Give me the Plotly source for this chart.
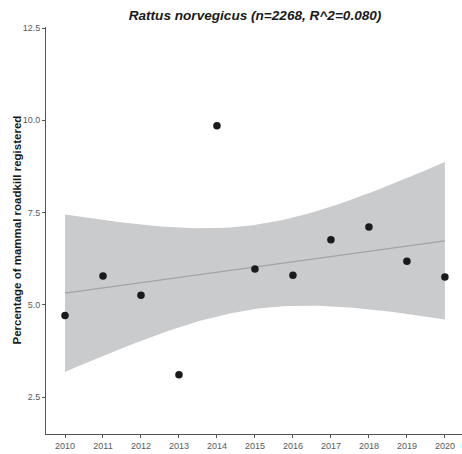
import numpy as np
import plotly.graph_objects as go

# Yearly share of mammal roadkill records for Rattus norvegicus
years = [2010, 2011, 2012, 2013, 2014, 2015, 2016, 2017, 2018, 2019, 2020]
percent = [4.71, 5.78, 5.26, 3.10, 9.85, 5.97, 5.80, 6.76, 7.11, 6.18, 5.75]
y_ticks = [2.5, 5.0, 7.5, 10.0, 12.5]

# Linear fit with a 95% confidence band (t, df = 9)
x = np.array(years, dtype=float)
y = np.array(percent)
slope, intercept = np.polyfit(x, y, 1)
n = len(x)
resid = y - (slope * x + intercept)
s = np.sqrt(np.sum(resid ** 2) / (n - 2))
sxx = np.sum((x - x.mean()) ** 2)
t_crit = 2.262157
xs = np.linspace(x.min(), x.max(), 100)
fit = slope * xs + intercept
se = s * np.sqrt(1 / n + (xs - x.mean()) ** 2 / sxx)
upper = fit + t_crit * se
lower = fit - t_crit * se

fig = go.Figure()
fig.add_trace(go.Scatter(
    x=np.concatenate([xs, xs[::-1]]), y=np.concatenate([upper, lower[::-1]]),
    fill="toself", fillcolor="#cacbcd", line=dict(width=0), mode="lines",
    hoverinfo="skip", showlegend=False))
fig.add_trace(go.Scatter(x=xs, y=fit, mode="lines",
                         line=dict(color="#a3a3a5", width=1.2), showlegend=False))
fig.add_trace(go.Scatter(x=years, y=percent, mode="markers",
                         marker=dict(color="#1a1a1a", size=7.5), showlegend=False))

fig.update_layout(
    width=462, height=454,
    margin=dict(l=46, r=0, t=27, b=20),
    paper_bgcolor="white", plot_bgcolor="white",
    font=dict(family="Liberation Sans, Arial, sans-serif"),
    title=dict(text="<b><i>Rattus norvegicus (n=2268, R^2=0.080)</i></b>",
               x=0.552, xanchor="center", y=0.967, yanchor="middle",
               font=dict(size=13.6, color="#1a1a1a")),
    xaxis=dict(range=[2009.5, 2020.45], tickvals=years, ticktext=[str(v) for v in years],
               showgrid=False, zeroline=False, showline=True, linecolor="#555555",
               linewidth=1, ticks="outside", ticklen=3, tickcolor="#555555",
               tickfont=dict(size=9, color="#5a5a5a")),
    yaxis=dict(range=[1.497, 12.53], tickvals=y_ticks, tickformat=".1f",
               showgrid=False, zeroline=False, showline=True, linecolor="#555555",
               linewidth=1, ticks="outside", ticklen=3, tickcolor="#555555",
               tickfont=dict(size=9, color="#5a5a5a")),
    annotations=[dict(
        text="<b>Percentage of mammal roadkill registered</b>",
        xref="paper", yref="paper", x=-30 / 416, y=0.5,
        xanchor="center", yanchor="middle", textangle=-90, showarrow=False,
        font=dict(size=11.5, color="#1a1a1a"))],
)

fig.write_html("out.html")
